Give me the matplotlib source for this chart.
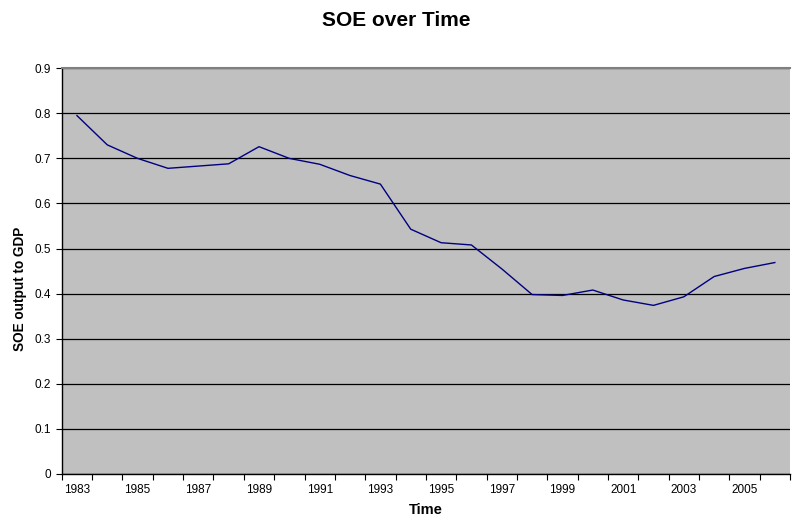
import numpy as np
import matplotlib.pyplot as plt

plt.rcParams['font.family'] = ['Liberation Sans', 'DejaVu Sans']

# data
years = list(range(1983, 2007))
soe = [0.795, 0.730, 0.700, 0.678, 0.683, 0.688, 0.726, 0.700, 0.687, 0.662,
       0.643, 0.543, 0.513, 0.508, 0.455, 0.398, 0.396, 0.408, 0.386, 0.374,
       0.393, 0.438, 0.456, 0.469]
yticks = [0, 0.1, 0.2, 0.3, 0.4, 0.5, 0.6, 0.7, 0.8, 0.9]

fig = plt.figure(figsize=(7.92, 5.29), dpi=100)
ax = fig.add_axes([0.078, 0.104, 0.9195, 0.767])
ax.set_facecolor('#C0C0C0')

x = np.arange(len(years))
ax.plot(x, soe, color='#000080', lw=1.0)

ax.set_xlim(-0.5, len(years) - 0.5)
ax.set_ylim(0, 0.9)

# tick marks between categories, labels on every other year
ax.set_xticks(np.arange(-0.5, len(years)), minor=False)
ax.set_xticklabels([])
ax.set_xticks(x[::2], minor=True)
ax.set_xticklabels([str(y) for y in years[::2]], minor=True, fontsize=8.5)
ax.tick_params(axis='x', which='major', length=4, direction='out', color='black')
ax.tick_params(axis='x', which='minor', length=0, pad=7)

ax.set_yticks(yticks)
ax.set_yticklabels(['0'] + ['%.1f' % v for v in yticks[1:]], fontsize=8.5)
ax.tick_params(axis='y', length=4, direction='out')

ax.yaxis.grid(True, color='black', lw=0.9)
ax.set_axisbelow(True)
ax.spines['right'].set_visible(False)
ax.spines['top'].set_color('#808080')
ax.spines['top'].set_linewidth(1.5)
for s in ['left', 'bottom']:
    ax.spines[s].set_color('black')
    ax.spines[s].set_linewidth(1.0)

ax.set_xlabel('Time', fontsize=10.5, fontweight='bold', labelpad=5)
ax.set_ylabel('SOE output to GDP', fontsize=9.8, fontweight='bold')
ax.yaxis.set_label_coords(-0.048, 0.455)
fig.suptitle('SOE over Time', fontsize=15, fontweight='bold', y=0.98)

fig.savefig('out.png', dpi=100)
